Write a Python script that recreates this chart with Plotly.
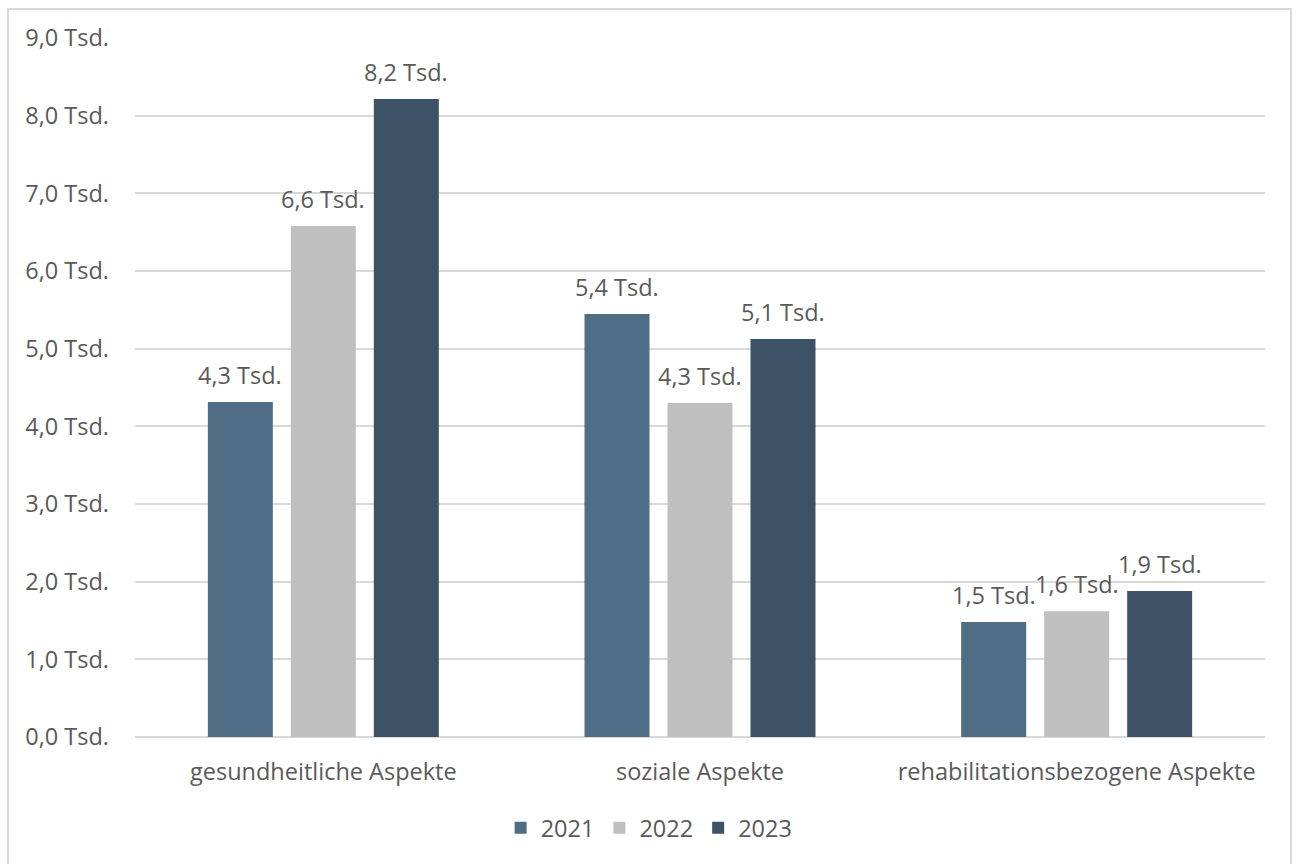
import plotly.graph_objects as go

categories = ["gesundheitliche Aspekte", "soziale Aspekte", "rehabilitationsbezogene Aspekte"]
years = ["2021", "2022", "2023"]
values_2021 = [4313, 5446, 1480]
values_2022 = [6579, 4300, 1620]
values_2023 = [8214, 5124, 1880]
series = [values_2021, values_2022, values_2023]
colors = ["#4F6D85", "#BFBFBF", "#3D5266"]
tick_vals = [0, 1000, 2000, 3000, 4000, 5000, 6000, 7000, 8000, 9000]
tick_text = ["0,0 Tsd.", "1,0 Tsd.", "2,0 Tsd.", "3,0 Tsd.", "4,0 Tsd.",
             "5,0 Tsd.", "6,0 Tsd.", "7,0 Tsd.", "8,0 Tsd.", "9,0 Tsd."]

def fmt(v):
    return f"{v/1000:.1f}".replace(".", ",") + " Tsd."

font_color = "#595959"
font_family = "Open Sans"
fs = 23.5

fig = go.Figure()
for name, vals, col in zip(years, series, colors):
    fig.add_trace(go.Bar(x=categories, y=vals, name=name, marker=dict(color=col, line=dict(width=0)),
                         hoverinfo="skip"))

annotations = []
for i, vals in enumerate(series):
    for cat, v in zip(categories, vals):
        annotations.append(dict(x=cat, y=v, text=fmt(v), showarrow=False, xref="x", yref="y",
                                xanchor="center", yanchor="bottom", xshift=(i - 1) * 83, yshift=9,
                                font=dict(family=font_family, size=fs, color=font_color)))

fig.update_layout(
    width=1298, height=864,
    margin=dict(l=135, r=33, t=38, b=127),
    paper_bgcolor="white", plot_bgcolor="white",
    barmode="group", bargap=0.339, bargroupgap=0.217,
    font=dict(family=font_family, size=fs, color=font_color),
    showlegend=True,
    legend=dict(orientation="h", x=0.455, xanchor="center", y=-0.13, yanchor="middle",
                font=dict(family=font_family, size=fs, color=font_color), itemwidth=30,
                tracegroupgap=0),
    annotations=annotations,
    shapes=[dict(type="rect", xref="paper", yref="paper", x0=-0.1124, x1=1.0230, y0=-0.25, y1=1.0415,
                 line=dict(color="#D9D9D9", width=2), fillcolor="rgba(0,0,0,0)", layer="below")],
)
fig.update_xaxes(showgrid=False, showline=False, ticks="", tickfont=dict(size=fs, color=font_color),
                 ticklabelstandoff=18)
fig.update_yaxes(range=[0, 9000], tickvals=tick_vals, ticktext=tick_text, showgrid=True,
                 gridcolor="#D9D9D9", gridwidth=2, zeroline=True, zerolinecolor="#D9D9D9", zerolinewidth=2,
                 showline=False, ticks="", ticklabelstandoff=25,
                 tickfont=dict(size=fs, color=font_color))

fig.write_html("out.html")
